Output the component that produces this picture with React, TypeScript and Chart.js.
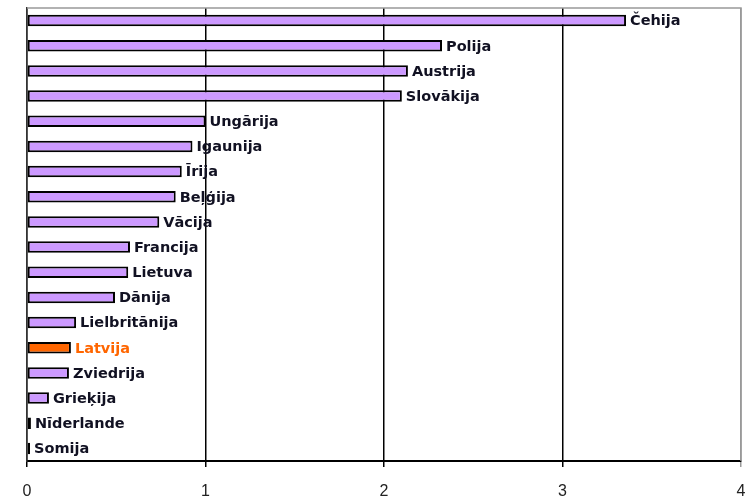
import React, { useEffect, useRef } from "react";
import { Chart, registerables } from "chart.js";

Chart.register(...registerables);

const countries = [
  "Čehija", "Polija", "Austrija", "Slovākija", "Ungārija", "Igaunija", "Īrija", "Beļģija", "Vācija",
  "Francija", "Lietuva", "Dānija", "Lielbritānija", "Latvija", "Zviedrija", "Grieķija", "Nīderlande", "Somija",
];
const values = [
  3.356, 2.325, 2.134, 2.1, 1.0, 0.927, 0.867, 0.833, 0.741,
  0.577, 0.567, 0.493, 0.275, 0.246, 0.235, 0.123, 0.022, 0.017,
];
const highlight = "Latvija";
const xTicks = [0, 1, 2, 3, 4];

const purple = "#cc99ff";
const orange = "#ff6600";

const labelPlugin = {
  id: "barLabels",
  afterDatasetsDraw(chart: any) {
    const ctx = chart.ctx;
    const meta = chart.getDatasetMeta(0);
    ctx.save();
    ctx.font = "bold 14.5px 'DejaVu Sans', Verdana, sans-serif";
    ctx.textBaseline = "middle";
    ctx.textAlign = "left";
    meta.data.forEach((el: any, i: number) => {
      const name = countries[i];
      ctx.fillStyle = name === highlight ? orange : "#111122";
      ctx.fillText(name, el.x + 4, el.y + 1);
    });
    ctx.restore();
  },
};

const framePlugin = {
  id: "frame",
  beforeDatasetsDraw(chart: any) {
    const { ctx, chartArea } = chart;
    ctx.save();
    ctx.strokeStyle = "#999999";
    ctx.lineWidth = 1.5;
    ctx.beginPath();
    ctx.moveTo(chartArea.left, chartArea.top);
    ctx.lineTo(chartArea.right, chartArea.top);
    ctx.lineTo(chartArea.right, chartArea.bottom);
    ctx.stroke();
    ctx.restore();
  },
};

export default function App() {
  const ref = useRef<HTMLCanvasElement | null>(null);
  useEffect(() => {
    if (!ref.current) return;
    const chart = new Chart(ref.current, {
      type: "bar",
      data: {
        labels: countries,
        datasets: [
          {
            data: values,
            backgroundColor: countries.map((c) => (c === highlight ? orange : purple)),
            borderColor: "#000000",
            borderWidth: 2,
            borderSkipped: false,
            categoryPercentage: 1,
            barPercentage: 0.46,
          },
        ],
      },
      options: {
        indexAxis: "y",
        animation: false,
        responsive: true,
        maintainAspectRatio: false,
        layout: { padding: { left: 27, right: 14, top: 8, bottom: 0 } },
        plugins: { legend: { display: false }, tooltip: { enabled: false } },
        scales: {
          x: {
            min: 0,
            max: 4,
            afterBuildTicks: (scale: any) => {
              scale.ticks = xTicks.map((v) => ({ value: v }));
            },
            afterFit: (scale: any) => {
              scale.height = 41;
              scale.paddingLeft = 0;
              scale.paddingRight = 0;
            },
            ticks: {
              color: "#222222",
              font: { size: 16, family: "'Liberation Sans', Arial, sans-serif" },
              padding: 15,
            },
            grid: {
              color: (c: any) => (c.tick && c.tick.value === 4 ? "#999999" : "#000000"),
              lineWidth: 1.5,
              tickLength: 6,
              drawOnChartArea: true,
            },
            border: { color: "#000000", width: 2 },
          },
          y: {
            ticks: { display: false },
            grid: { display: false, drawTicks: false },
            border: { color: "#333333", width: 1.5 },
          },
        },
      },
      plugins: [framePlugin, labelPlugin],
    });
    return () => chart.destroy();
  }, []);
  return (
    <div style={{ position: "fixed", left: 0, top: 0, width: 755, height: 502, background: "#fff" }}>
      <canvas ref={ref} />
    </div>
  );
}
